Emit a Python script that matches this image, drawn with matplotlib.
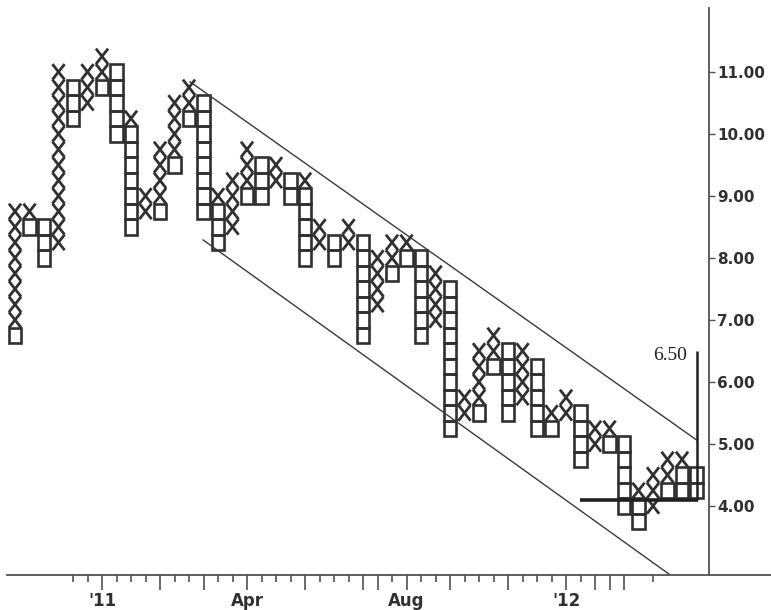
import matplotlib
matplotlib.use("Agg")
import matplotlib.pyplot as plt
from matplotlib.patches import Rectangle
from matplotlib.collections import LineCollection
from matplotlib.lines import Line2D

# ---------------- data (one entry per column, 1-box reversal P&F, box = 0.25) ----------------
box_size = 0.25
x_lo = [7.0, 8.75, None, 8.25, None, 10.5, 11.0, None, 10.25, 8.75, 9.0, 9.75, 10.5, None, 9.0, 8.5,
        9.25, None, 9.25, None, 9.25, 8.25, None, 8.25, None, 7.25, 8.0, 8.25, None, 7.0, None, 5.5,
        5.75, 6.5, None, 5.75, None, 5.5, 5.5, None, 5.0, 5.25, None, 4.25, 4.0, 4.5, 4.75, None]
x_hi = [8.75, 8.75, None, 11.0, None, 11.0, 11.25, None, 10.25, 9.0, 9.75, 10.5, 10.75, None, 9.0, 9.25,
        9.75, None, 9.5, None, 9.25, 8.5, None, 8.5, None, 8.0, 8.25, 8.25, None, 7.75, None, 5.75,
        6.5, 6.75, None, 6.5, None, 5.5, 5.75, None, 5.25, 5.25, None, 4.25, 4.5, 4.75, 4.75, None]
o_lo = [6.75, 8.5, 8.0, None, 10.25, None, 10.75, 10.0, 8.5, None, 8.75, 9.5, 10.25, 8.75, 8.25, None,
        9.0, 9.0, None, 9.0, 8.0, None, 8.0, None, 6.75, None, 7.75, 8.0, 6.75, None, 5.25, None,
        5.5, 6.25, 5.5, None, 5.25, 5.25, None, 4.75, None, 5.0, 4.0, 3.75, None, 4.25, 4.25, 4.25]
o_hi = [6.75, 8.5, 8.5, None, 10.75, None, 10.75, 11.0, 10.0, None, 8.75, 9.5, 10.25, 10.5, 8.75, None,
        9.0, 9.5, None, 9.25, 9.0, None, 8.25, None, 8.25, None, 7.75, 8.0, 8.0, None, 7.5, None,
        5.5, 6.25, 6.5, None, 6.25, 5.25, None, 5.5, None, 5.0, 5.0, 4.0, None, 4.25, 4.5, 4.5]

# trend channel (column, price) end points
upper_line = [(13.07, 10.84), (48.03, 5.06)]
lower_line = [(13.97, 8.29), (46.17, 2.89)]
base_line = [(39.97, 4.1), (48.1, 4.1)]
target_line = [(48.03, 6.5), (48.03, 4.1)]
target_label = "6.50"

y_ticks = [4, 5, 6, 7, 8, 9, 10, 11]
minor_cols = list(range(5, 44)) + [45]
major_cols = [7, 11, 14, 17, 21, 25, 26, 28, 31, 35, 39, 41, 42, 43]
month_labels = {7: "'11", 17: "Apr", 28: "Aug", 39: "'12"}

# ---------------- figure ----------------
W, H = 771, 610
fig = plt.figure(figsize=(W / 100, H / 100), dpi=100)
fig.patch.set_facecolor("white")
ax = fig.add_axes([7 / W, 1 - 575 / H, (709 - 7) / W, (575 - 8) / H])
ax.set_xlim(0.448, 48.86)
ax.set_ylim(2.887, 12.03)

mark = "#303030"
half_w = 0.42
half_h = box_size / 2

segs = []
for i, (lo, hi) in enumerate(zip(x_lo, x_hi)):
    if lo is None:
        continue
    c = i + 1
    n = int(round((hi - lo) / box_size)) + 1
    for k in range(n):
        p = lo + k * box_size
        segs.append([(c - half_w, p - half_h), (c + half_w, p + half_h)])
        segs.append([(c - half_w, p + half_h), (c + half_w, p - half_h)])
ax.add_collection(LineCollection(segs, colors=mark, linewidths=2.0, capstyle="butt"))

for i, (lo, hi) in enumerate(zip(o_lo, o_hi)):
    if lo is None:
        continue
    c = i + 1
    n = int(round((hi - lo) / box_size)) + 1
    for k in range(n):
        p = lo + k * box_size
        ax.add_patch(Rectangle((c - half_w, p - half_h), 2 * half_w, box_size,
                               fill=False, edgecolor=mark, linewidth=1.9))

for ln, lw in ((upper_line, 1.0), (lower_line, 1.0)):
    ax.plot([ln[0][0], ln[1][0]], [ln[0][1], ln[1][1]], color="#3a3a3a", lw=lw)
ax.plot([base_line[0][0], base_line[1][0]], [base_line[0][1], base_line[1][1]],
        color="#202020", lw=2.6, solid_capstyle="butt")
ax.plot([target_line[0][0], target_line[1][0]], [target_line[0][1], target_line[1][1]],
        color="#202020", lw=1.8, solid_capstyle="butt")
ax.text(47.35, 6.43, target_label, ha="right", va="center", fontsize=14,
        family="Liberation Serif", color="#202020")

# ---------------- axes styling ----------------
for s in ("left", "top"):
    ax.spines[s].set_visible(False)
for s in ("right", "bottom"):
    ax.spines[s].set_color("#505050")
    ax.spines[s].set_linewidth(1.3)
ax.patch.set_alpha(0)

ax.yaxis.tick_right()
ax.set_yticks(y_ticks)
ax.set_yticklabels([f"{v:.2f}" for v in y_ticks])
ax.tick_params(axis="y", direction="out", length=4, width=1, colors="#505050", pad=2,
               labelsize=11, labelcolor="#303030")
for t in ax.get_yticklabels():
    t.set_fontweight("bold")

ax.set_xticks(major_cols)
ax.set_xticklabels([month_labels.get(c, "") for c in major_cols])
ax.set_xticks(minor_cols, minor=True)
ax.tick_params(axis="x", which="major", direction="out", length=11, width=1.2,
               colors="#505050", pad=1, labelsize=12, labelcolor="#303030")
ax.tick_params(axis="x", which="minor", direction="out", length=5, width=1.2, colors="#505050")
for t in ax.get_xticklabels():
    t.set_fontweight("bold")

y_axis = 1 - 575 / H
fig.add_artist(Line2D([709 / W, 1.0], [y_axis, y_axis], transform=fig.transFigure,
                      color="#505050", lw=1.3))

fig.savefig("out.png", dpi=100, facecolor="white")
